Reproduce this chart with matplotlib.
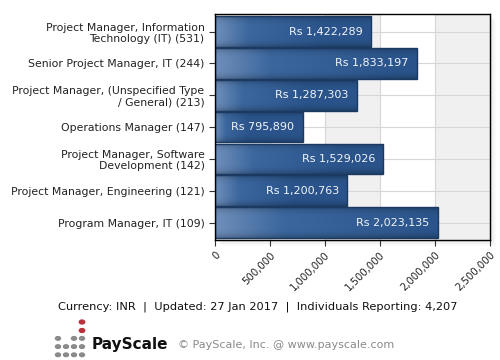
import numpy as np
import matplotlib
matplotlib.use("Agg")
import matplotlib.pyplot as plt
from matplotlib.patches import Rectangle, Circle
from matplotlib.colors import LinearSegmentedColormap

jobs = [
    "Project Manager, Information\nTechnology (IT) (531)",
    "Senior Project Manager, IT (244)",
    "Project Manager, (Unspecified Type\n/ General) (213)",
    "Operations Manager (147)",
    "Project Manager, Software\nDevelopment (142)",
    "Project Manager, Engineering (121)",
    "Program Manager, IT (109)",
]
salaries = [1422289, 1833197, 1287303, 795890, 1529026, 1200763, 2023135]
xticks = [0, 500000, 1000000, 1500000, 2000000, 2500000]
footer = "Currency: INR  |  Updated: 27 Jan 2017  |  Individuals Reporting: 4,207"

plt.rcParams['font.family'] = ['DejaVu Sans']

fig = plt.figure(figsize=(5, 3.6), dpi=100)
ax = fig.add_axes([0.43, 0.333, 0.55, 0.628])
ax.set_zorder(2)

# drop shadow behind the plot box
for i, a in enumerate([0.10, 0.07, 0.04]):
    off = 0.004 * (i + 1)
    fig.patches.append(Rectangle((0.43 + off, 0.333 - off * 1.4), 0.55, 0.628,
                                 transform=fig.transFigure, color="#808080",
                                 alpha=a, zorder=-1, lw=0))

ax.set_xlim(0, 2500000)
ax.set_ylim(len(jobs) - 0.45, -0.55)

# alternating background bands
for k in range(5):
    if k % 2 == 0:
        ax.axvspan(k * 500000, (k + 1) * 500000, color="#f0f0f0", zorder=0, lw=0)
ax.set_facecolor("white")
ax.grid(True, color="#d6d6d6", lw=0.8, zorder=0.5)
ax.set_axisbelow(True)

# bar gradient
cmap = LinearSegmentedColormap.from_list("bar", [
    (0.0, "#6f8fba"), (0.3, "#3b679e"), (1.0, "#2a548b")])
h = 0.96
for i, v in enumerate(salaries):
    nx, ny = 120, 20
    gx = np.linspace(0, 1, nx)
    horiz = cmap(np.clip(gx * 2000000 / max(v, 1), 0, 1))[:, :3]
    gy = np.linspace(-1, 1, ny)
    vert = 1 - 0.22 * gy ** 4
    img = horiz[None, :, :] * vert[:, None, None]
    im = ax.imshow(img, extent=[0, v, i + h / 2, i - h / 2], aspect="auto",
                   zorder=2, interpolation="bilinear")
    r = Rectangle((0, i - h / 2), v, h, fc="none", ec="#1c3961", lw=1.0, zorder=3)
    ax.add_patch(r)
    im.set_clip_path(r)
    ax.text(v - 75000, i, "Rs {:,}".format(v), ha="right", va="center",
            color="#f2f5f9", fontsize=8, zorder=4)

ax.set_yticks(range(len(jobs)))
ax.set_yticklabels(jobs, fontsize=7.8, color="#222222", linespacing=1.15)
ax.set_xticks(xticks)
ax.set_xticklabels(["{:,}".format(t) for t in xticks], fontsize=7.3,
                   rotation=45, ha="right", rotation_mode="anchor", color="#222222")
ax.tick_params(axis="both", length=4, width=0.8, color="#333333")
ax.tick_params(axis="x", pad=3)
for s in ax.spines.values():
    s.set_color("black")
    s.set_linewidth(1.0)
    s.set_zorder(5)

fig.text(0.515, 0.147, footer, ha="center", va="center", fontsize=8.2, color="#111111")

# logo
dots = [(0, 2), (2, 2), (3, 2), (0, 3), (1, 3), (2, 3), (3, 3), (0, 4), (1, 4), (2, 4), (3, 4)]
for cx, cy in dots:
    fig.patches.append(Circle(((58 + cx * 8) / 500, 1 - (322 + cy * 8.2) / 360), 2.5 / 500,
                              transform=fig.transFigure, color="#8a8a8a", zorder=3))
for cy in (0, 1):
    fig.patches.append(Circle((82 / 500, 1 - (322 + cy * 8.5) / 360), 2.7 / 500,
                              transform=fig.transFigure, color="#b8323e", zorder=3))
fig.text(92 / 500, 1 - 344 / 360, "PayScale", fontsize=11, fontweight="bold",
         color="#111111", va="center", ha="left")
fig.text(178 / 500, 1 - 345 / 360, "\u00a9 PayScale, Inc. @ www.payscale.com",
         fontsize=8, color="#8a8a8a", va="center", ha="left")

fig.savefig("out.png", dpi=100)
